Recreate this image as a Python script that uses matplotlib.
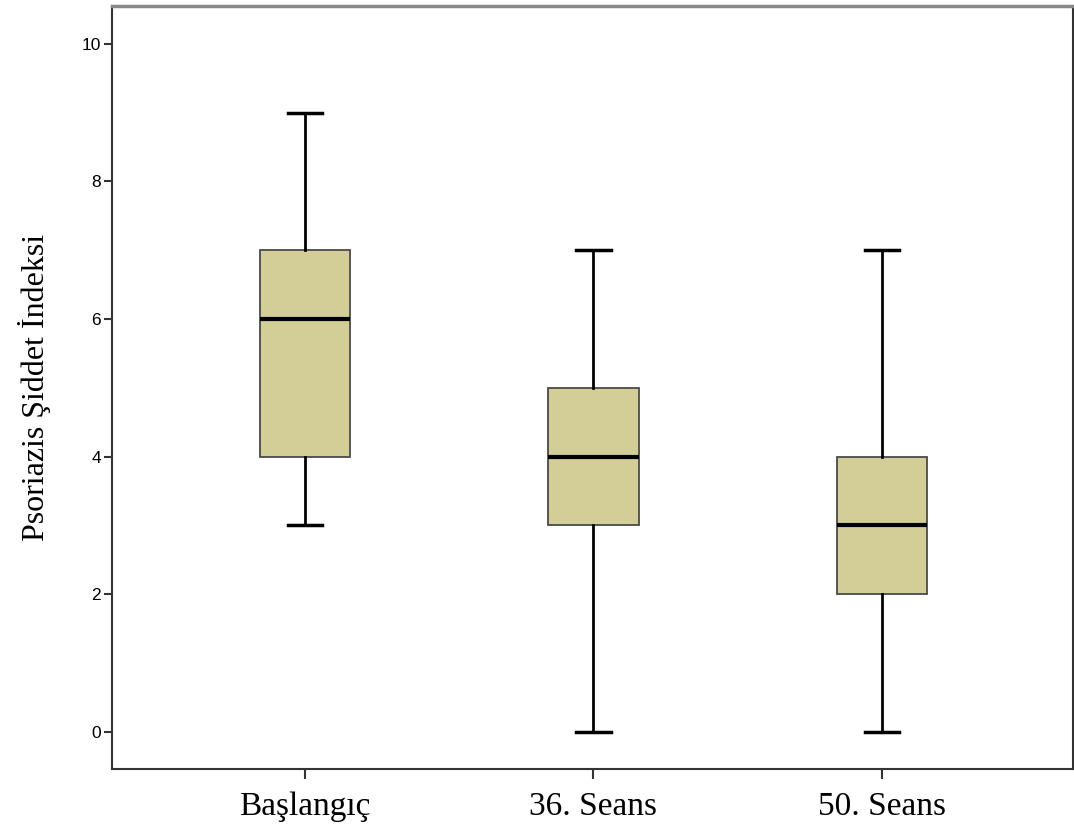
import matplotlib
matplotlib.use('Agg')
import matplotlib.pyplot as plt

# groups and box statistics
groups = ['Başlangıç', '36. Seans', '50. Seans']
whislo = [3, 0, 0]
q1 = [4, 3, 2]
med = [6, 4, 3]
q3 = [7, 5, 4]
whishi = [9, 7, 7]

stats = []
for i in range(len(groups)):
    stats.append({'label': groups[i], 'whislo': whislo[i], 'q1': q1[i],
                  'med': med[i], 'q3': q3[i], 'whishi': whishi[i], 'fliers': []})

fig = plt.figure(figsize=(10.74, 8.27), dpi=100)
ax = fig.add_axes([0.1043, 0.0701, 0.8947, 0.9226])

ax.bxp(stats, positions=[1, 2, 3], widths=0.315, patch_artist=True,
       showfliers=False,
       boxprops=dict(facecolor='#d3ce97', edgecolor='#4a4a4a', linewidth=1.3),
       medianprops=dict(color='black', linewidth=3),
       whiskerprops=dict(color='black', linewidth=2),
       capprops=dict(color='black', linewidth=2.5),
       capwidths=0.118)

ax.set_xlim(0.331, 3.662)
ax.set_ylim(-0.54, 10.55)
ax.set_yticks([0, 2, 4, 6, 8, 10])
ax.set_xticks([1, 2, 3])
ax.set_xticklabels(groups, fontfamily='Liberation Serif', fontsize=24)
for lab in ax.get_yticklabels():
    lab.set_fontfamily('Liberation Sans')
    lab.set_fontsize(12.5)
ax.tick_params(axis='y', length=6, width=1.5, color='#333333', pad=2)
ax.tick_params(axis='x', length=7, width=1.5, color='#333333', pad=9)
ax.set_ylabel('Psoriazis Şiddet İndeksi', fontfamily='Liberation Serif',
              fontsize=23, labelpad=22)
for s in ax.spines.values():
    s.set_color('#333333')
    s.set_linewidth(1.5)
ax.spines['top'].set_color('#888888')
ax.spines['top'].set_linewidth(2.5)

fig.savefig('out.png', dpi=100)
